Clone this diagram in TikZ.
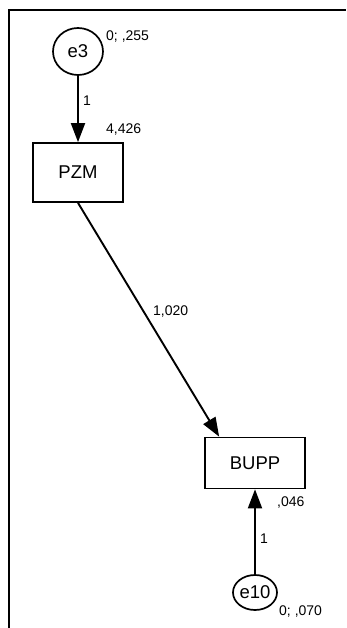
\documentclass[tikz,border=0pt]{standalone}
\usepackage{fontspec}
\setmainfont{Liberation Sans}
\usepackage{tikz}
\usetikzlibrary{arrows.meta, positioning, shapes.geometric}

\begin{document}
\begin{tikzpicture}[
    >={Triangle[length=19pt, width=14pt]},
    x=1pt, y=1pt,
    err/.style={draw, ellipse, line width=1.7pt, inner sep=0pt, font=\fontsize{18.5}{20}\selectfont},
    obs/.style={draw, rectangle, line width=1.7pt, inner sep=0pt, font=\fontsize{18.5}{20}\selectfont},
    est/.style={anchor=base west, inner sep=0pt, font=\fontsize{14}{16}\selectfont},
    path/.style={->, line width=1.9pt},
  ]
    \useasboundingbox (0,0) rectangle (346,-628);
    % ===== 枠（左と上だけ）=====
    \draw[line width=2.4pt] (9,-628) -- (9,-10) -- (346,-10);
    % ===== 変数 =====
    \node[err, minimum width=50pt, minimum height=47pt] (e3)   at (78,-51.5)  {e3};
    \node[obs, minimum width=90pt, minimum height=59pt] (PZM)  at (78,-172.5) {PZM};
    \node[obs, minimum width=100pt, minimum height=51pt] (BUPP) at (255,-463) {BUPP};
    \node[err, minimum width=44pt, minimum height=35pt] (e10)  at (255,-592.5) {e10};
    \coordinate (hit) at ([xshift=15pt]BUPP.north west);   % 矢印の当たる点
    % ===== パス =====
    \draw[path] (e3) -- (PZM);
    \draw[path] (PZM.south) -- (hit);
    \draw[path] (e10) -- (BUPP);
    % ===== 推定値 =====
    \node[est] (v3)   at (106,-41)  {0; ,255};
    \node[est] (i1)   at (106,-134) {4,426};
    \node[est] (w3)   at (83,-106)  {1};
    \node[est] (b1)   at (153,-315) {1,020};
    \node[est] (i2)   at (277,-506) {,046};
    \node[est] (w10)  at (260,-543) {1};
    \node[est] (v10)  at (279,-615) {0; ,070};
  \end{tikzpicture}
\end{document}
